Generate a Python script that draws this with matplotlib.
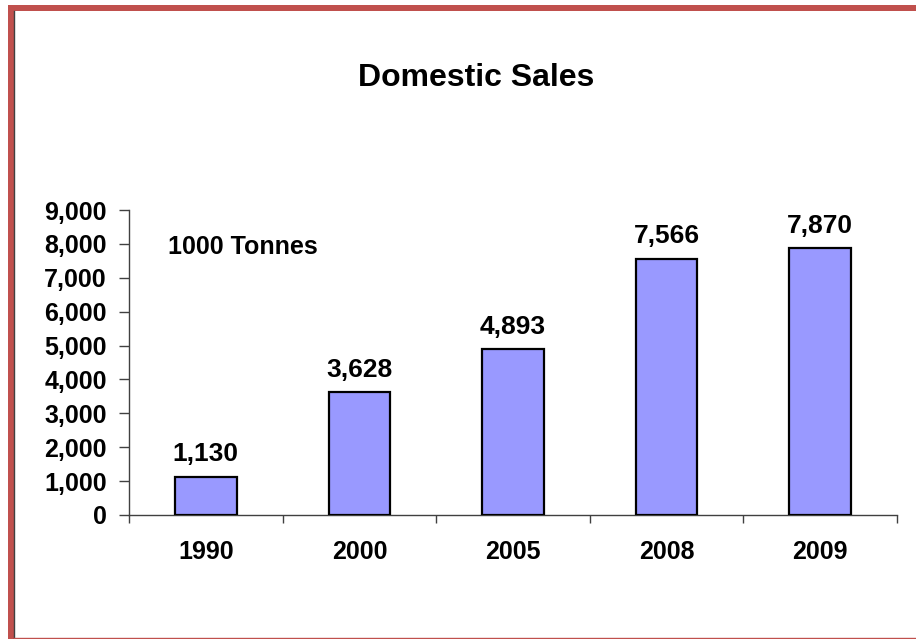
import matplotlib
matplotlib.use("Agg")
import matplotlib.pyplot as plt
from matplotlib.patches import Rectangle
from matplotlib.lines import Line2D

years = ["1990", "2000", "2005", "2008", "2009"]
sales = [1130, 3628, 4893, 7566, 7870]
y_ticks = [0, 1000, 2000, 3000, 4000, 5000, 6000, 7000, 8000, 9000]

plt.rcParams["font.family"] = ["Liberation Sans", "DejaVu Sans"]
plt.rcParams["font.weight"] = "bold"

W, H = 916, 639
fig = plt.figure(figsize=(W / 100, H / 100), dpi=100)
fig.patch.set_facecolor("white")

# frame around the chart area: thick red top/left, thin red bottom
fig.add_artist(Rectangle((8 / W, 0), 6 / W, 1 - 5 / H, transform=fig.transFigure,
                         facecolor="#c0504d", edgecolor="none"))
fig.add_artist(Rectangle((8 / W, 1 - 11 / H), 1, 6 / H, transform=fig.transFigure,
                         facecolor="#c0504d", edgecolor="none"))
fig.add_artist(Line2D([14.5 / W, 14.5 / W], [0, 1 - 11 / H], transform=fig.transFigure,
                      color="#404040", lw=1))
fig.add_artist(Line2D([14 / W, 1], [1.5 / H, 1.5 / H], transform=fig.transFigure,
                      color="#c0504d", lw=1))

left, right = 129 / W, 897 / W
bottom, top = (H - 515) / H, (H - 210) / H
ax = fig.add_axes([left, bottom, right - left, top - bottom])

x = list(range(len(years)))
ax.bar(x, sales, width=0.4, color="#9999ff", edgecolor="black", linewidth=1.6, zorder=3)

for xi, v in zip(x, sales):
    ax.annotate(f"{v:,}", (xi, v), xytext=(0, 16), textcoords="offset points",
                ha="center", va="center", fontsize=19, fontweight="bold")

ax.set_xlim(-0.5, len(years) - 0.5)
ax.set_ylim(0, 9000)
ax.set_yticks(y_ticks)
ax.set_yticklabels([f"{t:,}" for t in y_ticks], fontsize=18, fontweight="bold")

# category labels sit between the boundary ticks
ax.set_xticks([i - 0.5 for i in range(len(years) + 1)])
ax.set_xticklabels([])
ax.set_xticks(x, minor=True)
ax.set_xticklabels(years, minor=True, fontsize=18, fontweight="bold")
ax.tick_params(axis="x", which="minor", length=0, pad=18)
ax.tick_params(axis="x", which="major", length=6, width=1, color="#404040")
ax.tick_params(axis="y", length=7, width=1, color="#404040", pad=9)

for side in ["top", "right"]:
    ax.spines[side].set_visible(False)
for side in ["left", "bottom"]:
    ax.spines[side].set_color("#404040")
    ax.spines[side].set_linewidth(1)

fig.text(168 / W, 1 - 247 / H, "1000 Tonnes", ha="left", va="center",
         fontsize=18, fontweight="bold")

fig.text(476 / W, 1 - 78 / H, "Domestic Sales", ha="center", va="center",
         fontsize=23, fontweight="bold")

fig.savefig("out.png", dpi=100)
